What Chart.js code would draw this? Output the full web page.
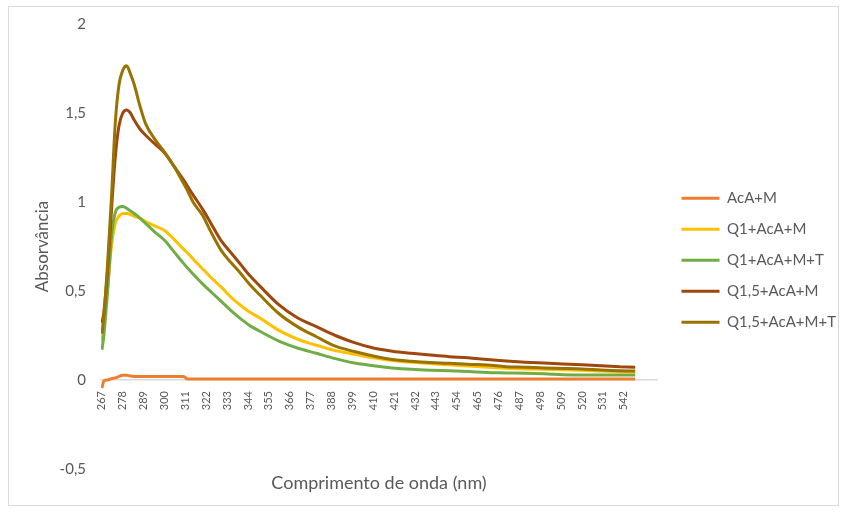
<!DOCTYPE html>
<html>
<head>
<meta charset="utf-8">
<script src="https://cdn.jsdelivr.net/npm/chart.js@4.4.0/dist/chart.umd.min.js"></script>
<style>
  body { margin: 0; background: #fff; }
</style>
</head>
<body>
<canvas id="grafico" width="847" height="512"></canvas>
<script>
// Comprimentos de onda (nm)
const comprimentos = [267, 268, 270, 272, 274, 276, 278, 280, 282, 284, 287, 290, 295, 300, 305, 310, 312, 315,
  320, 325, 330, 335, 340, 345, 350, 360, 370, 380, 390, 400, 410, 420, 430, 440, 450, 460, 470, 480, 490, 500, 510, 520, 530, 540, 548];

// Absorbâncias de cada amostra
const acaM = [-0.045, -0.005, 0, 0.008, 0.012, 0.02, 0.027, 0.027, 0.022, 0.02, 0.02, 0.02, 0.02, 0.02, 0.02, 0.02, 0.006, 0.006,
  0.006, 0.006, 0.006, 0.006, 0.006, 0.006, 0.006, 0.006, 0.006, 0.006, 0.006, 0.006, 0.006, 0.006, 0.006, 0.006, 0.006, 0.006, 0.006, 0.006, 0.006, 0.006, 0.006, 0.006, 0.006, 0.006, 0.006];
const q1AcaM = [0.22, 0.30, 0.52, 0.75, 0.88, 0.92, 0.935, 0.935, 0.93, 0.92, 0.91, 0.89, 0.865, 0.84, 0.79, 0.735, 0.715, 0.68,
  0.625, 0.57, 0.52, 0.465, 0.42, 0.38, 0.35, 0.28, 0.23, 0.195, 0.165, 0.145, 0.125, 0.11, 0.10, 0.092, 0.085, 0.078, 0.072, 0.066, 0.062, 0.06, 0.057, 0.055, 0.05, 0.047, 0.045];
const q1AcaMT = [0.17, 0.25, 0.50, 0.80, 0.94, 0.97, 0.975, 0.965, 0.95, 0.935, 0.91, 0.88, 0.83, 0.785, 0.72, 0.655, 0.63, 0.595,
  0.54, 0.49, 0.44, 0.39, 0.345, 0.305, 0.275, 0.22, 0.18, 0.15, 0.12, 0.095, 0.08, 0.068, 0.06, 0.055, 0.052, 0.048, 0.042, 0.04, 0.038, 0.035, 0.03, 0.028, 0.028, 0.028, 0.028];
const q15AcaM = [0.32, 0.38, 0.62, 0.95, 1.25, 1.43, 1.50, 1.517, 1.50, 1.46, 1.41, 1.375, 1.325, 1.275, 1.20, 1.125, 1.09, 1.04,
  0.96, 0.87, 0.78, 0.715, 0.65, 0.585, 0.53, 0.425, 0.35, 0.30, 0.25, 0.21, 0.18, 0.162, 0.15, 0.14, 0.131, 0.125, 0.115, 0.107, 0.10, 0.095, 0.09, 0.085, 0.08, 0.075, 0.071];
const q15AcaMT = [0.26, 0.36, 0.66, 1.02, 1.44, 1.66, 1.74, 1.765, 1.72, 1.66, 1.54, 1.44, 1.35, 1.28, 1.20, 1.105, 1.065, 1.00,
  0.925, 0.82, 0.725, 0.66, 0.60, 0.535, 0.48, 0.375, 0.30, 0.243, 0.19, 0.16, 0.135, 0.115, 0.105, 0.098, 0.094, 0.088, 0.084, 0.075, 0.072, 0.068, 0.065, 0.062, 0.056, 0.052, 0.051];

// Rótulos dos eixos
const rotulosX = [267, 278, 289, 300, 311, 322, 333, 344, 355, 366, 377, 388, 399, 410, 421, 432, 443, 454, 465, 476, 487, 498, 509, 520, 531, 542];
const rotulosY = [-0.5, 0, 0.5, 1, 1.5, 2];

const nomes = ['AcA+M', 'Q1+AcA+M', 'Q1+AcA+M+T', 'Q1,5+AcA+M', 'Q1,5+AcA+M+T'];
const cores = ['#ED7D31', '#FFC000', '#70AD47', '#9E480E', '#997300'];
const series = [acaM, q1AcaM, q1AcaMT, q15AcaM, q15AcaMT];

const cinza = '#595959';
const PAD_DIR = 1;

Chart.defaults.font.family = 'Lato, "Open Sans", sans-serif';
Chart.defaults.color = cinza;

// Moldura cinza em volta do gráfico
const moldura = {
  id: 'moldura',
  beforeDraw(chart) {
    const ctx = chart.ctx;
    ctx.save();
    ctx.fillStyle = '#fff';
    ctx.fillRect(0, 0, chart.width, chart.height);
    ctx.strokeStyle = '#d9d9d9';
    ctx.lineWidth = 1;
    ctx.strokeRect(8.5, 6.5, 830, 499);
    ctx.restore();
  }
};

const datasets = series.map((s, i) => ({
  label: nomes[i],
  data: comprimentos.map((x, j) => ({ x: x, y: s[j] })),
  borderColor: cores[i],
  backgroundColor: cores[i],
  borderWidth: 3,
  pointRadius: 0,
  cubicInterpolationMode: 'monotone',
  order: series.length - i
}));

const grafico = new Chart(document.getElementById('grafico'), {
  type: 'line',
  data: { datasets: datasets },
  options: {
    responsive: false,
    animation: false,
    layout: { padding: { left: 30, top: 24, bottom: 43, right: PAD_DIR } },
    plugins: {
      tooltip: { enabled: false },
      legend: {
        position: 'right',
        // título vazio só para descer os itens da legenda
        title: { display: true, text: '', font: { size: 12 }, padding: { top: 13.2, bottom: 0 } },
        labels: {
          boxWidth: 38,
          boxHeight: 0,
          padding: 16,
          font: { size: 15 },
          color: cinza,
          sort: (a, b) => a.datasetIndex - b.datasetIndex
        }
      }
    },
    scales: {
      x: {
        type: 'linear',
        position: { y: 0 },
        min: 266.5,
        max: 559.5,
        afterBuildTicks: (s) => { s.ticks = rotulosX.map(v => ({ value: v })); },
        afterFit: (s) => { s.height = 118; },
        grid: { display: false, drawTicks: false },
        border: { color: '#d9d9d9', width: 1.5 },
        ticks: {
          autoSkip: false,
          minRotation: 90,
          maxRotation: 90,
          padding: 11,
          font: { size: 11 },
          color: cinza,
          callback: (v) => String(v)
        },
        title: { display: true, text: 'Comprimento de onda (nm)', font: { size: 18 }, color: cinza }
      },
      y: {
        position: 'left',
        min: -0.5,
        max: 2,
        afterBuildTicks: (s) => { s.ticks = rotulosY.map(v => ({ value: v })); },
        afterFit: (s) => { s.width = 71; },
        grid: { display: false, drawTicks: false },
        border: { display: false },
        ticks: {
          padding: 15,
          font: { size: 15 },
          color: cinza,
          callback: (v) => String(v).replace('.', ',')
        },
        title: { display: true, text: 'Absorvância', font: { size: 17 }, color: cinza, padding: { top: 2, bottom: 4 } }
      },
      // espaço vazio entre a área do gráfico e a legenda
      espaco: {
        display: false,
        position: 'right',
        afterFit: (s) => { s.width = Math.max(0, s.chart.width - PAD_DIR - s.chart.legend.width - 657); }
      }
    }
  },
  plugins: [moldura]
});
</script>
</body>
</html>
